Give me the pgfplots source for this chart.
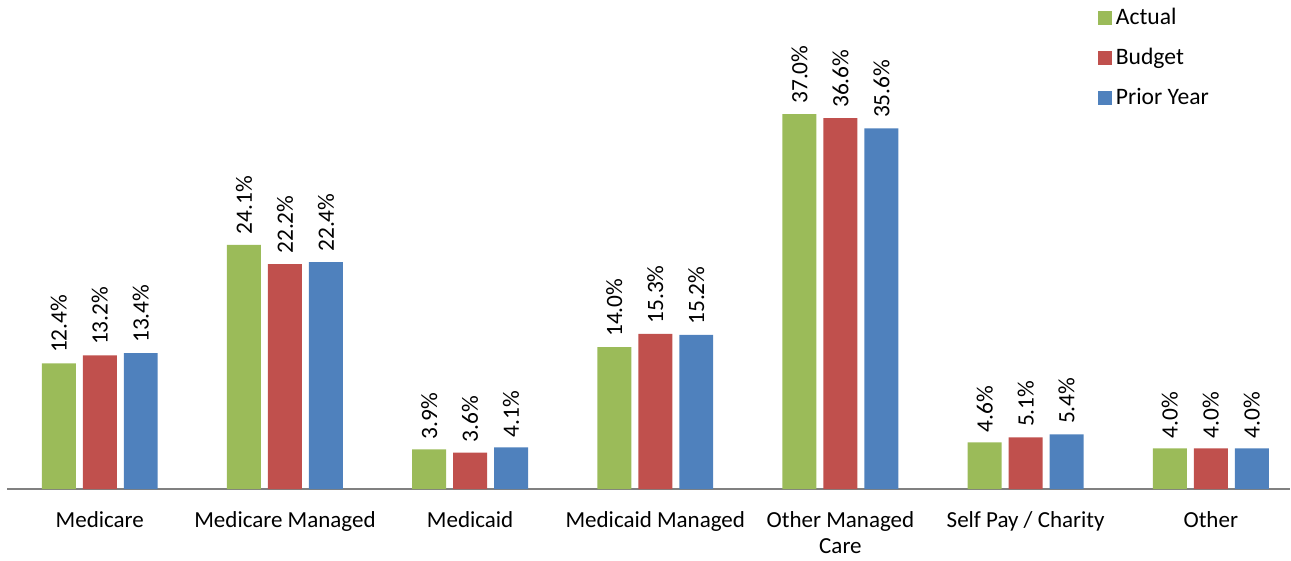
\documentclass[border=0pt]{standalone}
\usepackage{fontspec}
\setmainfont{Carlito}
\usepackage{pgfplots}
\pgfplotsset{compat=1.18}
\definecolor{actual}{HTML}{9BBB59}
\definecolor{budget}{HTML}{C0504D}
\definecolor{prior}{HTML}{4F81BD}
\begin{document}
\fontsize{11.5}{14}\selectfont
\begin{tikzpicture}
\begin{axis}[name=ax,
  x=92.65pt, y=5.07pt,
  xmin=-0.5, xmax=6.43, ymin=0, ymax=48.3,
  ybar=3.5pt, bar width=17pt,
  axis x line=bottom, hide y axis,
  x axis line style={-, draw=black!50, line width=0.6pt},
  xtick=data, major tick length=0pt,
  xticklabels={Medicare, Medicare Managed, Medicaid, Medicaid Managed, {Other Managed\\Care}, Self Pay / Charity, Other},
  xticklabel style={align=center, font=\fontsize{11.5}{13}\selectfont, yshift=-7pt},
  /pgf/number format/assume math mode=true,
  nodes near coords={\pgfmathprintnumber[fixed, fixed zerofill, precision=1]{\pgfplotspointmeta}\%},
  every node near coord/.append style={rotate=90, anchor=west, font=\fontsize{11.7}{14}\selectfont, text=black, inner sep=5pt},
  clip=false,
  legend style={at={(0.845,1)}, anchor=north west, draw=none, fill=none,
    font=\fontsize{11.8}{14}\selectfont, row sep=6.2pt, cells={anchor=west}},
  legend image code/.code={\fill[#1] (0pt,-3.5pt) rectangle (7pt,3.5pt);},
]
\addplot[fill=actual, draw=none] coordinates {(0,12.4) (1,24.1) (2,3.9) (3,14.0) (4,37.0) (5,4.6) (6,4.0)};
\addlegendentry{Actual}
\addplot[fill=budget, draw=none] coordinates {(0,13.2) (1,22.2) (2,3.6) (3,15.3) (4,36.6) (5,5.1) (6,4.0)};
\addlegendentry{Budget}
\addplot[fill=prior, draw=none] coordinates {(0,13.4) (1,22.4) (2,4.1) (3,15.2) (4,35.6) (5,5.4) (6,4.0)};
\addlegendentry{Prior Year}
\end{axis}
\path ([xshift=-3.6pt]ax.south west);
\end{tikzpicture}
\end{document}
